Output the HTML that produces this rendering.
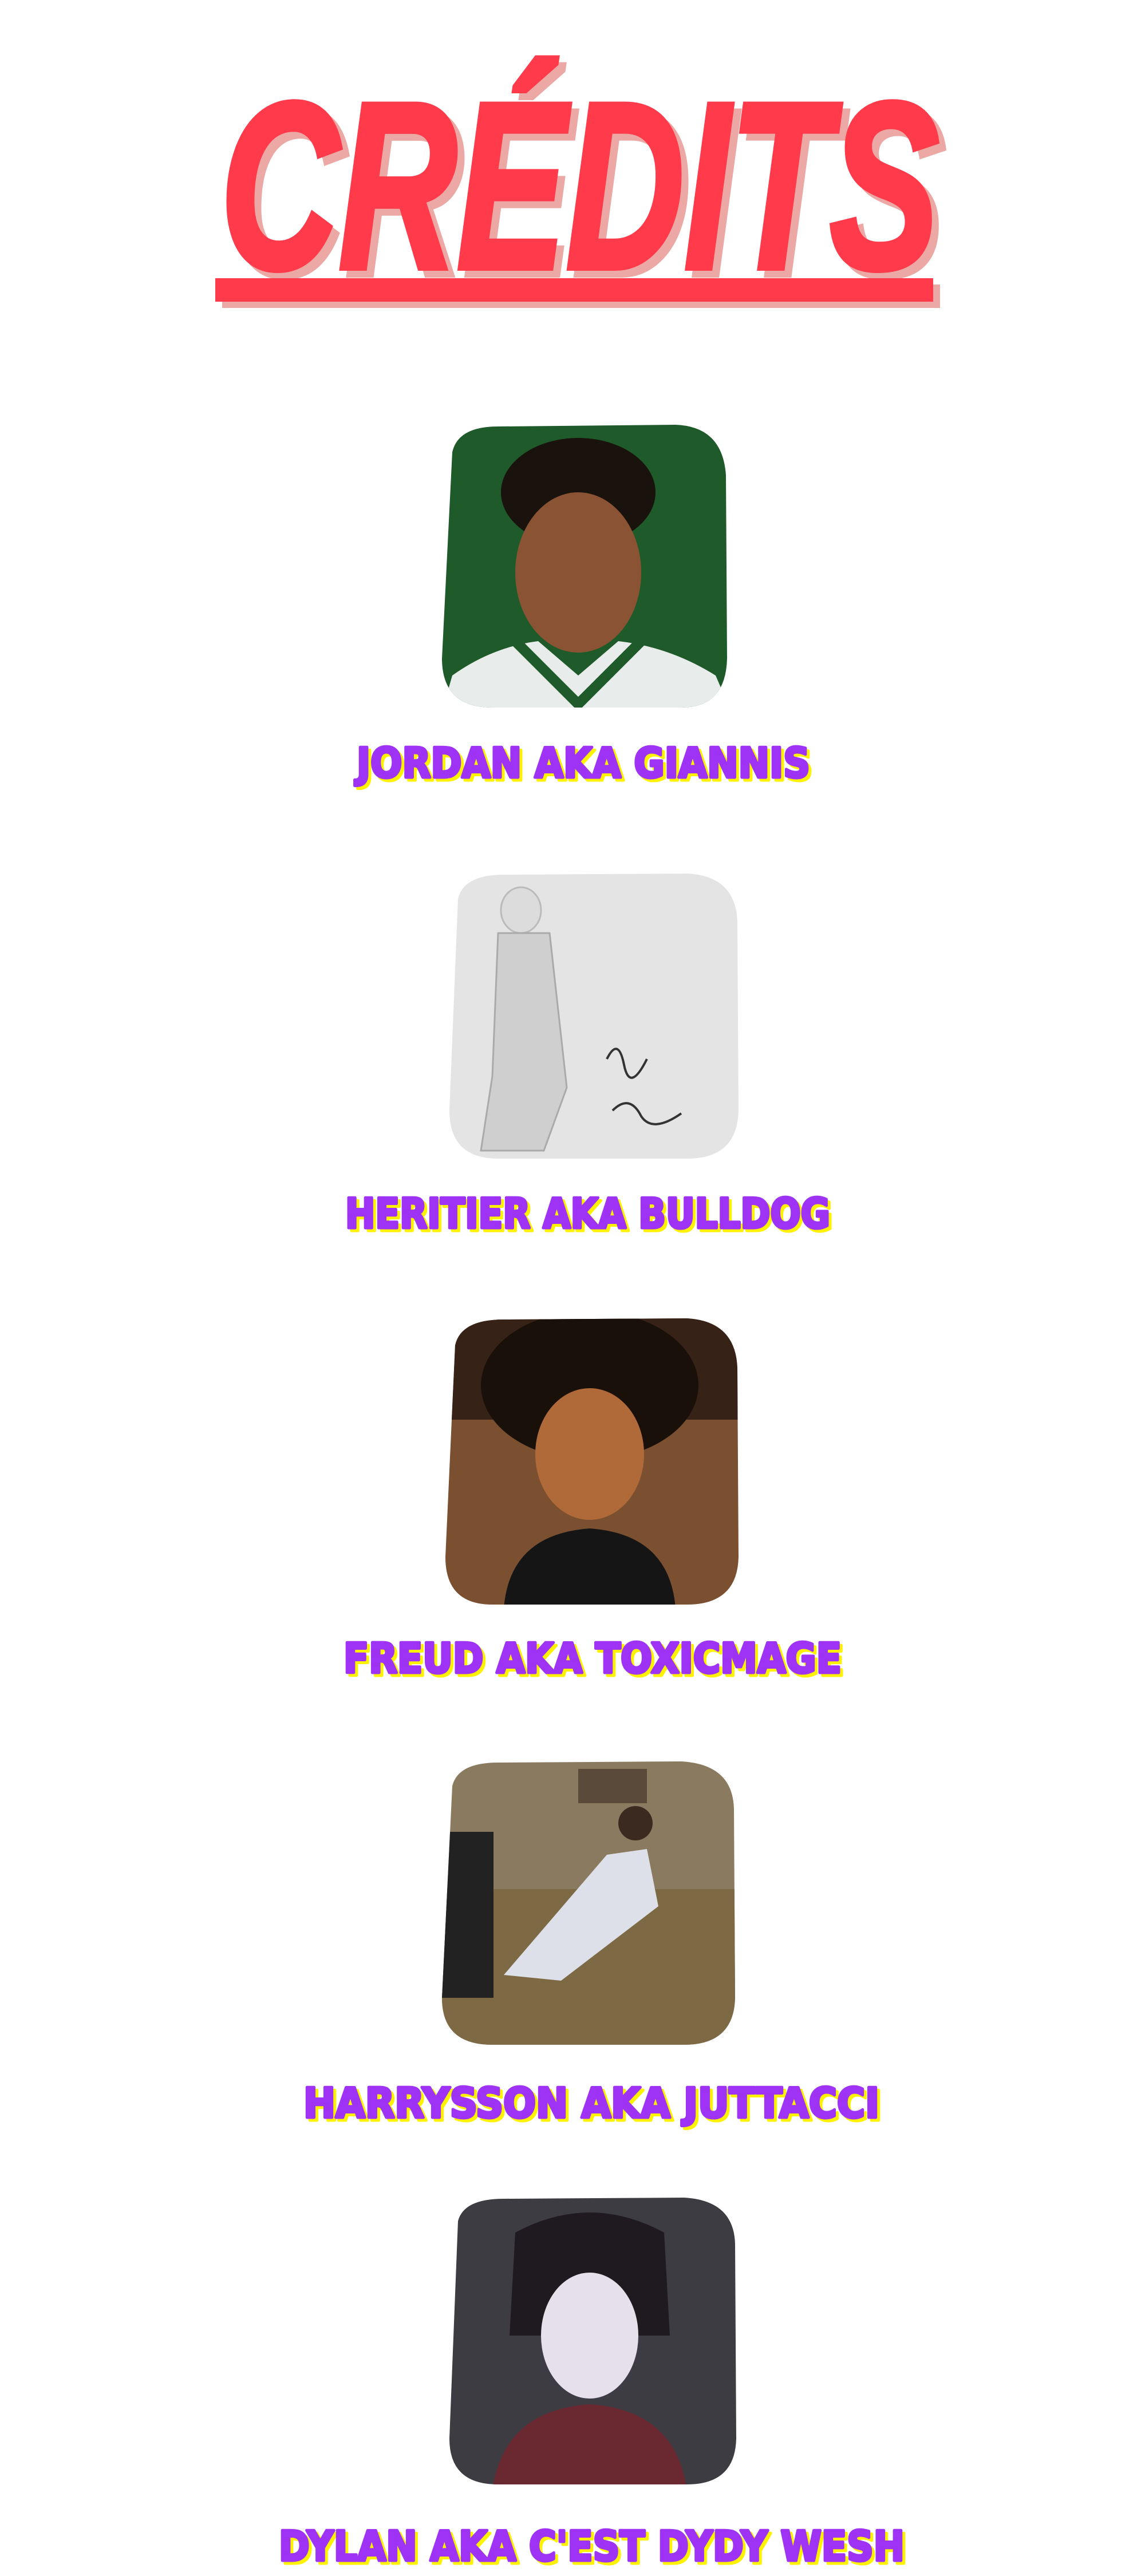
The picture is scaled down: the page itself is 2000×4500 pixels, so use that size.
<!DOCTYPE html>
<html><head><meta charset="utf-8"><style>
html,body{margin:0;padding:0;background:#fff;width:2000px;height:4500px;overflow:hidden}
svg{display:block}
.nm{font-family:"DejaVu Sans","Liberation Sans",sans-serif;font-weight:bold;font-size:72px;stroke-width:5;stroke-linejoin:round}
</style></head><body>
<svg width="2000" height="4500" viewBox="0 0 2000 4500">
<defs>
 <clipPath id="c1"><path d="M790 790 Q800 745 870 745 L1180 742 Q1262 745 1268 830 L1270 1150 Q1268 1236 1190 1236 L860 1236 Q772 1236 772 1150 Z"/></clipPath>
 <clipPath id="c2"><path d="M800 1570 Q810 1528 880 1528 L1200 1526 Q1285 1530 1288 1610 L1290 1940 Q1288 2024 1200 2024 L870 2024 Q785 2024 785 1940 Z"/></clipPath>
 <clipPath id="c3"><path d="M795 2350 Q805 2305 880 2305 L1200 2303 Q1285 2308 1288 2390 L1290 2720 Q1288 2803 1200 2803 L860 2803 Q778 2803 778 2720 Z"/></clipPath>
 <clipPath id="c4"><path d="M790 3120 Q800 3079 870 3079 L1190 3077 Q1280 3082 1282 3160 L1284 3490 Q1282 3572 1195 3572 L860 3572 Q772 3572 772 3490 Z"/></clipPath>
 <clipPath id="c5"><path d="M800 3880 Q810 3841 880 3841 L1195 3839 Q1282 3844 1284 3920 L1286 4260 Q1284 4340 1200 4340 L870 4340 Q785 4340 785 4260 Z"/></clipPath>
</defs>
<g>
 <text x="397" y="480" textLength="1255" lengthAdjust="spacingAndGlyphs" font-family="Liberation Sans, sans-serif" font-weight="bold" font-style="italic" font-size="415" fill="#eca8a4" stroke="#eca8a4" stroke-width="10">CRÉDITS</text>
 <text x="385" y="468" textLength="1255" lengthAdjust="spacingAndGlyphs" font-family="Liberation Sans, sans-serif" font-weight="bold" font-style="italic" font-size="415" fill="#ff3a4a" stroke="#ff3a4a" stroke-width="10">CRÉDITS</text>
 <rect x="388" y="497" width="1254" height="41" fill="#eca8a4"/>
 <rect x="376" y="486" width="1254" height="41" fill="#ff3a4a"/>
</g>

<g clip-path="url(#c1)">
 <rect x="760" y="730" width="520" height="520" fill="#1f5a2a"/>
 <ellipse cx="1010" cy="860" rx="135" ry="95" fill="#1a120c"/>
 <ellipse cx="1010" cy="1000" rx="110" ry="140" fill="#8a5434"/>
 <path d="M770 1250 L790 1180 Q860 1130 940 1120 L1010 1180 L1080 1120 Q1170 1130 1250 1180 L1280 1250 Z" fill="#e8ecea"/>
 <path d="M900 1120 L1010 1230 L1120 1120" stroke="#1f5a2a" stroke-width="18" fill="none"/>
</g>
<g>
 <text class="nm" x="628" y="1363" textLength="792" lengthAdjust="spacingAndGlyphs" fill="#fff200" stroke="#fff200">JORDAN AKA GIANNIS</text>
 <text class="nm" x="623" y="1358" textLength="792" lengthAdjust="spacingAndGlyphs" fill="#9e33f5" stroke="#9e33f5">JORDAN AKA GIANNIS</text>
</g>

<g clip-path="url(#c2)">
 <rect x="770" y="1510" width="530" height="530" fill="#e4e4e4"/>
 <ellipse cx="910" cy="1590" rx="35" ry="40" fill="#dcdcdc" stroke="#bbb" stroke-width="3"/>
 <path d="M870 1630 L960 1630 L990 1900 L950 2010 L840 2010 L860 1880 Z" fill="#cfcfcf" stroke="#aaa" stroke-width="3"/>
 <path d="M1060 1850 q20 -40 30 10 q10 50 40 -10 M1070 1940 q30 -30 50 10 q20 30 70 -5" stroke="#333" stroke-width="4" fill="none"/>
</g>
<g>
 <text class="nm" x="608" y="2150" textLength="847" lengthAdjust="spacingAndGlyphs" fill="#fff200" stroke="#fff200">HERITIER AKA BULLDOG</text>
 <text class="nm" x="603" y="2145" textLength="847" lengthAdjust="spacingAndGlyphs" fill="#9e33f5" stroke="#9e33f5">HERITIER AKA BULLDOG</text>
</g>

<g clip-path="url(#c3)">
 <rect x="770" y="2290" width="530" height="530" fill="#7a5030"/>
 <rect x="770" y="2290" width="530" height="190" fill="#2a1a12" opacity="0.85"/>
 <ellipse cx="1030" cy="2420" rx="190" ry="130" fill="#1a100a"/>
 <ellipse cx="1030" cy="2540" rx="95" ry="115" fill="#b06a3a"/>
 <path d="M880 2810 Q890 2680 1030 2670 Q1170 2680 1180 2810 Z" fill="#151515"/>
</g>
<g>
 <text class="nm" x="605" y="2927" textLength="870" lengthAdjust="spacingAndGlyphs" fill="#fff200" stroke="#fff200">FREUD AKA TOXICMAGE</text>
 <text class="nm" x="600" y="2922" textLength="870" lengthAdjust="spacingAndGlyphs" fill="#9e33f5" stroke="#9e33f5">FREUD AKA TOXICMAGE</text>
</g>

<g clip-path="url(#c4)">
 <rect x="760" y="3060" width="540" height="530" fill="#8a7a60"/>
 <rect x="760" y="3300" width="540" height="290" fill="#7d6a45"/>
 <rect x="772" y="3200" width="90" height="290" fill="#222"/>
 <path d="M880 3450 L1060 3240 L1130 3230 L1150 3330 L980 3460 Z" fill="#dde0e8"/>
 <circle cx="1110" cy="3185" r="30" fill="#3a2a20"/>
 <rect x="1010" y="3090" width="120" height="60" fill="#5a4a3a"/>
</g>
<g>
 <text class="nm" x="535" y="3704" textLength="1006" lengthAdjust="spacingAndGlyphs" fill="#fff200" stroke="#fff200">HARRYSSON AKA JUTTACCI</text>
 <text class="nm" x="530" y="3699" textLength="1006" lengthAdjust="spacingAndGlyphs" fill="#9e33f5" stroke="#9e33f5">HARRYSSON AKA JUTTACCI</text>
</g>

<g clip-path="url(#c5)">
 <rect x="770" y="3830" width="530" height="520" fill="#3c3c42"/>
 <path d="M900 3900 Q1030 3830 1160 3900 L1170 4080 L890 4080 Z" fill="#1e1a20"/>
 <ellipse cx="1030" cy="4080" rx="85" ry="110" fill="#e6e0ea"/>
 <path d="M860 4350 Q880 4210 1030 4200 Q1180 4210 1200 4350 Z" fill="#6a2830"/>
</g>
<g>
 <text class="nm" x="492" y="4478" textLength="1093" lengthAdjust="spacingAndGlyphs" fill="#fff200" stroke="#fff200">DYLAN AKA C'EST DYDY WESH</text>
 <text class="nm" x="487" y="4473" textLength="1093" lengthAdjust="spacingAndGlyphs" fill="#9e33f5" stroke="#9e33f5">DYLAN AKA C'EST DYDY WESH</text>
</g>
</svg>
</body></html>
